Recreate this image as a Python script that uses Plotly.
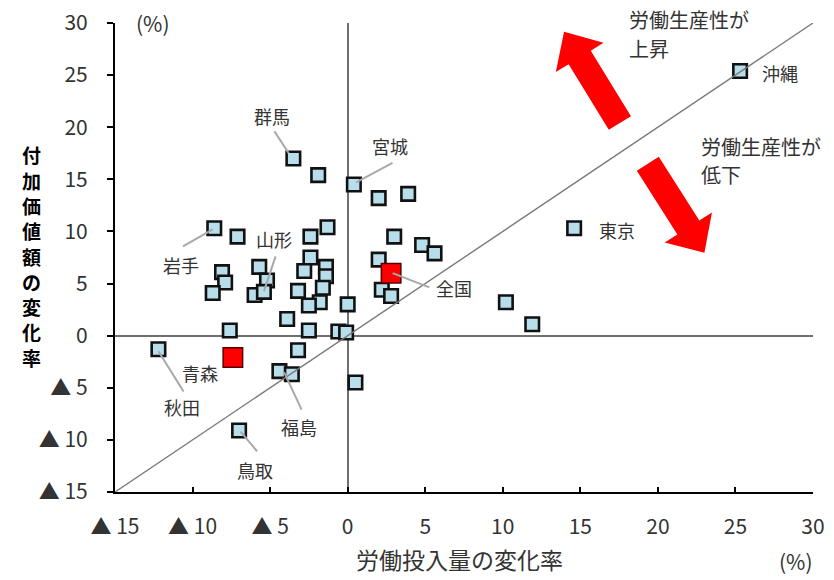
import math
import plotly.graph_objects as go

# ---------------- data ----------------
names = ["岩手", "", "", "", "", "", "", "", "山形", "群馬",
         "", "", "", "", "", "", "", "", "", "",
         "", "", "", "", "", "", "", "秋田", "", "",
         "福島", "", "鳥取", "宮城", "", "", "", "", "", "",
         "", "", "", "", "東京", "沖縄"]
labor = [-8.6, -7.1, -8.1, -7.9, -8.7, -5.7, -5.2, -6.0, -5.4, -3.5,
         -1.9, -2.4, -1.3, -2.4, -2.8, -1.4, -1.4, -1.6, -3.2, -1.8,
         -2.5, 0.0, -3.9, -7.6, -2.5, -0.6, -0.1, -12.2, -3.2, -4.4,
         -3.6, 0.5, -7.0, 0.4, 2.0, 3.9, 3.0, 4.8, 5.6, 2.0,
         2.2, 2.8, 10.2, 11.9, 14.6, 25.3]
value = [10.3, 9.5, 6.1, 5.1, 4.1, 6.6, 5.3, 3.9, 4.2, 17.0,
         15.4, 9.5, 10.4, 7.5, 6.2, 6.6, 5.7, 4.6, 4.3, 3.2,
         2.9, 3.0, 1.6, 0.5, 0.5, 0.4, 0.3, -1.3, -1.4, -3.4,
         -3.7, -4.5, -9.1, 14.5, 13.2, 13.6, 9.5, 8.7, 7.9, 7.3,
         4.4, 3.8, 3.2, 1.1, 10.3, 25.4]

hl_names = ["青森", "全国"]
hl_labor = [-7.4, 2.8]
hl_value = [-2.1, 6.0]

tick_vals = [-15, -10, -5, 0, 5, 10, 15, 20, 25, 30]
tick_text = ["▲ 15", "▲ 10", "▲ 5", "0", "5", "10", "15", "20", "25", "30"]

# label: (text, text_x, text_y, leader_from, leader_to)
labels = [
    ("群馬", -4.87, 21.05, (-4.72, 19.6), (-3.8, 17.5)),
    ("宮城", 2.71, 18.17, (2.89, 16.57), (0.55, 14.7)),
    ("岩手", -10.75, 6.81, (-10.62, 8.57), (-8.7, 10.2)),
    ("山形", -4.72, 9.28, (-4.65, 7.61), (-5.4, 4.25)),
    ("全国", 6.87, 4.58, (5.26, 4.64), (2.9, 6.0)),
    ("青森", -9.55, -3.58, None, None),
    ("秋田", -10.69, -6.84, (-10.58, -5.35), (-12.2, -1.5)),
    ("福島", -3.15, -8.8, (-2.97, -7.1), (-4.1, -3.5)),
    ("鳥取", -5.95, -12.86, (-5.84, -11.1), (-6.9, -9.2)),
    ("沖縄", 27.88, 25.2, None, None),
    ("東京", 17.39, 10.17, None, None),
]

y_title = "付加価値額の変化率"
x_title = "労働投入量の変化率"

# ---------------- layout constants ----------------
W, H = 834, 580
ML, MR, MT, MB = 115, 21, 23, 88
XR = [-15, 30]
YR = [-15, 30]
PW, PH = W - ML - MR, H - MT - MB
SX = PW / (XR[1] - XR[0])   # px per unit
SY = PH / (YR[1] - YR[0])

FONT = "Noto Sans CJK JP"
GRAY_TXT = "#333333"


def ypaper(v):
    return (v - YR[0]) / (YR[1] - YR[0])


def arrow_path(x0, y0, x1, y1, shaft_hw=13, head_hw=28, head_len=30):
    # geometry in pixel space, returned as SVG path in data coords
    px0, py0, px1, py1 = x0 * SX, y0 * SY, x1 * SX, y1 * SY
    dx, dy = px1 - px0, py1 - py0
    L = math.hypot(dx, dy)
    ux, uy = dx / L, dy / L
    nx, ny = -uy, ux
    bx, by = px1 - ux * head_len, py1 - uy * head_len
    pts = [
        (px0 + nx * shaft_hw, py0 + ny * shaft_hw),
        (bx + nx * shaft_hw, by + ny * shaft_hw),
        (bx + nx * head_hw, by + ny * head_hw),
        (px1, py1),
        (bx - nx * head_hw, by - ny * head_hw),
        (bx - nx * shaft_hw, by - ny * shaft_hw),
        (px0 - nx * shaft_hw, py0 - ny * shaft_hw),
    ]
    return "M " + " L ".join(f"{px / SX:.4f},{py / SY:.4f}" for px, py in pts) + " Z"


fig = go.Figure()

# blue squares
fig.add_trace(go.Scatter(
    x=labor, y=value, mode="markers",
    marker=dict(symbol="square", size=13.5, color="#b7deea",
                line=dict(color="#111111", width=2.6)),
    hovertext=names, showlegend=False, cliponaxis=False))

# red highlighted squares
fig.add_trace(go.Scatter(
    x=hl_labor, y=hl_value, mode="markers",
    marker=dict(symbol="square", size=19.5, color="#ff0000",
                line=dict(color="#550000", width=1.5)),
    hovertext=hl_names, showlegend=False, cliponaxis=False))

# diagonal y = x
fig.add_trace(go.Scatter(
    x=XR, y=YR, mode="lines",
    line=dict(color="#7a7a7a", width=1.4),
    showlegend=False, hoverinfo="skip"))

shapes = []
annotations = []

# leader lines + labels
for text, tx, ty, lf, lt in labels:
    if lf is not None:
        shapes.append(dict(type="line", xref="x", yref="y",
                           x0=lf[0], y0=lf[1], x1=lt[0], y1=lt[1],
                           line=dict(color="#a8a8a8", width=2), layer="above"))
    annotations.append(dict(x=tx, y=ty, xref="x", yref="y", text=text,
                            showarrow=False, xanchor="center", yanchor="middle",
                            font=dict(family=FONT, size=18, color=GRAY_TXT)))

# red arrows
shapes.append(dict(type="path", xref="x", yref="y",
                   path=arrow_path(17.55, 20.4, 13.95, 29.15),
                   fillcolor="#ff0000", line=dict(width=0), layer="above"))
shapes.append(dict(type="path", xref="x", yref="y",
                   path=arrow_path(19.35, 16.5, 23.0, 7.95),
                   fillcolor="#ff0000", line=dict(width=0), layer="above"))

# arrow texts (y in paper coords so text above the plot top is kept)
for t, x, y in [("労働生産性が", 18.03, 30.33), ("上昇", 18.03, 27.54),
                ("労働生産性が", 22.67, 18.17), ("低下", 22.67, 15.45)]:
    annotations.append(dict(x=x, y=ypaper(y), xref="x", yref="paper", text=t,
                            showarrow=False, xanchor="left", yanchor="middle",
                            font=dict(family=FONT, size=20, color=GRAY_TXT)))

# vertical y-axis title, one character per annotation
n = len(y_title)
step = 25.3
cy = 256
for i, ch in enumerate(y_title):
    py = cy + (i - (n - 1) / 2) * step
    annotations.append(dict(x=(31 - ML) / PW, y=(H - MB - py) / PH,
                            xref="paper", yref="paper", text=ch, borderpad=0,
                            showarrow=False, xanchor="center", yanchor="middle",
                            font=dict(family=FONT, size=19, color="#000000", weight="bold")))

annotations.append(dict(x=(459 - ML) / PW, y=(H - MB - 559) / PH, xref="paper", yref="paper",
                        text=x_title, showarrow=False, borderpad=0,
                        xanchor="center", yanchor="middle",
                        font=dict(family=FONT, size=23, color=GRAY_TXT)))
annotations.append(dict(x=-12.55, y=ypaper(30.0), xref="x", yref="paper", text="(%)",
                        showarrow=False, xanchor="center", yanchor="middle",
                        font=dict(family=FONT, size=21, color=GRAY_TXT)))
annotations.append(dict(x=28.9, y=ypaper(-21.6), xref="x", yref="paper", text="(%)",
                        showarrow=False, xanchor="center", yanchor="middle", borderpad=0,
                        font=dict(family=FONT, size=21, color=GRAY_TXT)))

fig.update_layout(
    template="none",
    width=W, height=H,
    margin=dict(l=ML, r=MR, t=MT, b=MB, autoexpand=False),
    paper_bgcolor="white", plot_bgcolor="white",
    font=dict(family=FONT, color=GRAY_TXT),
    shapes=shapes, annotations=annotations,
    xaxis=dict(range=XR, tickvals=tick_vals, ticktext=tick_text, automargin=False,
               showgrid=False, zeroline=True, zerolinecolor="#707070", zerolinewidth=1.8,
               showline=True, linecolor="#000000", linewidth=2.2,
               ticks="inside", ticklen=5, tickwidth=2, tickcolor="#000000",
               tickfont=dict(family=FONT, size=21, color=GRAY_TXT),
               ticklabelstandoff=15, fixedrange=True),
    yaxis=dict(range=YR, tickvals=tick_vals, ticktext=tick_text, automargin=False,
               showgrid=False, zeroline=True, zerolinecolor="#707070", zerolinewidth=1.8,
               showline=True, linecolor="#000000", linewidth=2.2,
               ticks="outside", ticklen=6, tickwidth=2, tickcolor="#000000",
               tickfont=dict(family=FONT, size=21, color=GRAY_TXT),
               ticklabelstandoff=15, fixedrange=True),
)

fig.write_html("out.html",
               config={"displayModeBar": False},
               post_script="document.body.style.margin='0';document.body.style.overflow='hidden';")
